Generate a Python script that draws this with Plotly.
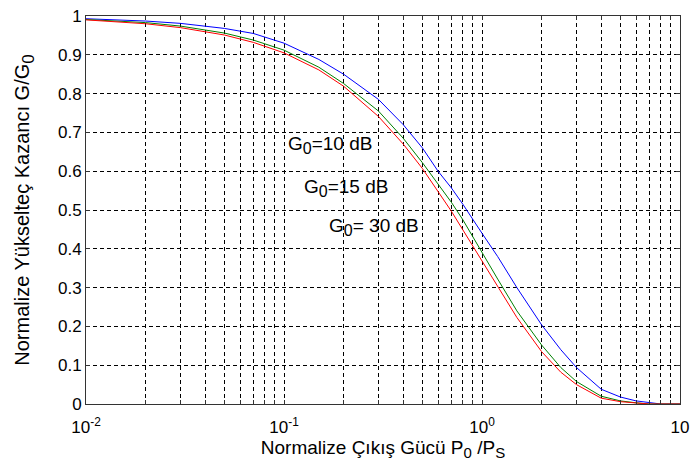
import math
import plotly.graph_objects as go

# Normalized output power P0/Ps
x_vals = [0.01, 0.02, 0.03, 0.05, 0.07, 0.1, 0.15, 0.2, 0.3, 0.4, 0.5, 0.6, 0.7, 0.8,
          1.0, 1.2, 1.5, 2.0, 2.5, 3.0, 4.0, 5.0, 6.0, 7.0, 8.0, 10.0]

# Normalized gain G/G0 for each small-signal gain
g_10db = [0.993, 0.987, 0.981, 0.968, 0.955, 0.930, 0.888, 0.850, 0.785, 0.720, 0.660,
          0.600, 0.557, 0.515, 0.440, 0.380, 0.300, 0.204, 0.140, 0.094, 0.038, 0.018,
          0.008, 0.003, 0.0, 0.0]
g_15db = [0.991, 0.983, 0.974, 0.956, 0.938, 0.912, 0.868, 0.826, 0.755, 0.685, 0.622,
          0.567, 0.520, 0.475, 0.390, 0.322, 0.240, 0.152, 0.094, 0.058, 0.020, 0.008,
          0.003, 0.0, 0.0, 0.0]
g_30db = [0.990, 0.980, 0.970, 0.951, 0.932, 0.905, 0.861, 0.819, 0.741, 0.670, 0.607,
          0.549, 0.497, 0.449, 0.368, 0.301, 0.223, 0.135, 0.082, 0.050, 0.015, 0.006,
          0.002, 0.0, 0.0, 0.0]

series = [("G0=10 dB", g_10db, "#0000ff"),
          ("G0=15 dB", g_15db, "#008000"),
          ("G0=30 dB", g_30db, "#ff0000")]

SUB = "<sub><span style='font-size:{}px'>{}</span></sub>"
labels = ["G" + SUB.format(16, "0") + "=10 dB",
          "G" + SUB.format(16, "0") + "=15 dB",
          "G" + SUB.format(16, "0") + "= 30 dB"]
label_x = [0.102, 0.123, 0.164]
label_y = [0.667, 0.557, 0.456]

x_major = [0.01, 0.1, 1, 10]
x_major_text = ["10<sup>-2</sup>", "10<sup>-1</sup>", "10<sup>0</sup>", "10"]
x_minor = [m * 10 ** e for e in (-2, -1, 0) for m in range(2, 10)]

y_ticks = [i / 10 for i in range(11)]
y_ticktext = ["0", "0.1", "0.2", "0.3", "0.4", "0.5", "0.6", "0.7", "0.8", "0.9", "1"]

fig = go.Figure()
for name, ys, col in series:
    fig.add_trace(go.Scatter(x=x_vals, y=ys, mode="lines", name=name,
                             line=dict(color=col, width=1), showlegend=False))

for t, lx, ly in zip(labels, label_x, label_y):
    fig.add_annotation(x=math.log10(lx), y=ly, text=t, showarrow=False,
                       xanchor="left", yanchor="middle",
                       font=dict(size=19, color="black"))

font = "Liberation Sans, Arial, sans-serif"
grid = dict(showgrid=True, gridcolor="black", gridwidth=1, griddash="4px,3px")
fig.update_layout(
    width=694, height=471,
    margin=dict(l=86, r=5, t=16, b=67),
    paper_bgcolor="white", plot_bgcolor="white",
    font=dict(family=font, size=17, color="black"),
    xaxis=dict(type="log", range=[-2, 1], tickmode="array", tickvals=x_major,
               ticktext=x_major_text,
               ticks="inside", ticklen=4, tickcolor="#333", showline=True,
               linecolor="#333", linewidth=1, mirror="allticks",
               minor=dict(tickmode="array", tickvals=x_minor, ticks="inside", ticklen=4,
                          tickcolor="#333", **grid),
               zeroline=False, tickfont=dict(size=17), ticklabeloverflow="allow",
               ticklabelstandoff=8,
               title=dict(text="Normalize Çıkış Gücü P" + SUB.format(15, "0") + " /P" + SUB.format(15, "S"),
                          font=dict(size=19), standoff=4),
               **grid),
    yaxis=dict(range=[0, 1], tickvals=y_ticks, ticktext=y_ticktext,
               ticks="inside", ticklen=4, tickcolor="#333", showline=True,
               linecolor="#333", linewidth=1, mirror="allticks",
               zeroline=False, tickfont=dict(size=17),
               title=dict(text="Normalize Yükselteç Kazancı G/G" + SUB.format(17, "0"),
                          font=dict(size=20), standoff=22),
               **grid),
)

fig.write_html("out.html")
